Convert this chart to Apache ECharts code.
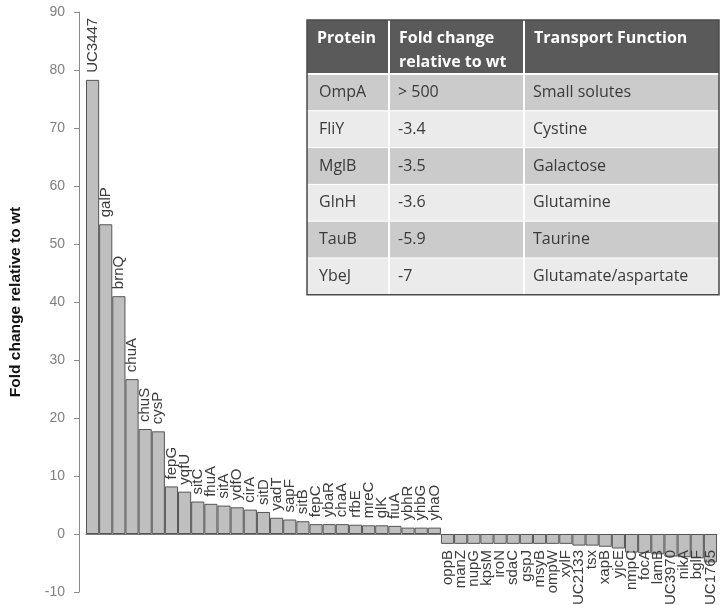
<!DOCTYPE html>
<html>
<head>
<meta charset="utf-8">
<script src="https://cdn.jsdelivr.net/npm/echarts@6/dist/echarts.min.js"></script>
<style>
html,body{margin:0;padding:0;background:#fff;}
#chart{width:720px;height:605px;}
</style>
</head>
<body>
<div id="chart"></div>
<script>
// ---- data ----
const categories = ['UC3447','galP','brnQ','chuA','chuS','cysP','fepG','yqfU','sitC','fhuA','sitA','ydfO','cirA','sitD','yadT','sapF','sitB','fepC','ybaR','chaA','rfbE','mreC','glK','fiuA','ybhR','yhbG','yhaO',
  'oppB','manZ','nupG','kpsM','iroN','sdaC','gspJ','msyB','ompW','xylF','UC2133','tsx','xapB','yjcE','nmpC','focA','lamB','UC3970','nikA','bglF','UC1765'];
const values = [78.3,53.4,41.0,26.7,18.1,17.7,8.2,7.3,5.6,5.2,4.9,4.6,4.2,3.8,2.8,2.5,2.2,1.7,1.7,1.7,1.6,1.5,1.5,1.4,1.1,1.1,1.1,
  -1.7,-1.7,-1.7,-1.7,-1.7,-1.7,-1.7,-1.7,-1.7,-1.7,-2.0,-2.0,-2.2,-2.5,-3.2,-3.3,-3.5,-3.9,-4.0,-4.2,-4.9];
const yMin = -10, yMax = 90, yStep = 10;
const yTitle = 'Fold change relative to wt';

const tableHeader = ['Protein', 'Fold change\nrelative to wt', 'Transport Function'];
const tableProtein = ['OmpA','FliY','MglB','GlnH','TauB','YbeJ'];
const tableFold = ['> 500','-3.4','-3.5','-3.6','-5.9','-7'];
const tableFunction = ['Small solutes','Cystine','Galactose','Glutamine','Taurine','Glutamate/aspartate'];

// ---- table (layout) ----
const T = {x:307, y:20, w:412, headH:54, rowH:36.8, cols:[307,389,524,719]};
const graphics = [];
const rows = tableProtein.map((p,i)=>[p, tableFold[i], tableFunction[i]]);
const totalH = T.headH + T.rowH*rows.length;
graphics.push({type:'rect', shape:{x:T.x, y:T.y, width:T.w, height:T.headH}, style:{fill:'#5a5a5a'}});
rows.forEach((r,i)=>{
  graphics.push({type:'rect', shape:{x:T.x, y:T.y+T.headH+i*T.rowH, width:T.w, height:T.rowH},
    style:{fill: i%2===0 ? '#cbcbcb' : '#ebebeb'}});
});
for (let i=1;i<rows.length;i++){
  const yy = T.y+T.headH+i*T.rowH;
  graphics.push({type:'line', shape:{x1:T.x, y1:yy, x2:T.x+T.w, y2:yy}, style:{stroke:'#ffffff', lineWidth:1}});
}
graphics.push({type:'line', shape:{x1:T.x, y1:T.y+T.headH, x2:T.x+T.w, y2:T.y+T.headH}, style:{stroke:'#ffffff', lineWidth:2}});
[1,2].forEach(c=>{
  graphics.push({type:'line', shape:{x1:T.cols[c], y1:T.y, x2:T.cols[c], y2:T.y+totalH}, style:{stroke:'#ffffff', lineWidth:2}});
});
graphics.push({type:'rect', shape:{x:T.x, y:T.y, width:T.w, height:totalH}, style:{fill:'none', stroke:'#4a4a4a', lineWidth:1.5}});
tableHeader.forEach((h,c)=>{
  graphics.push({type:'text', x:T.cols[c]+10, y:T.y+6,
    style:{text:h, fill:'#ffffff', font:'bold 16px "Open Sans"', lineHeight:24, verticalAlign:'top', align:'left'}});
});
rows.forEach((r,i)=>{
  r.forEach((t,c)=>{
    graphics.push({type:'text', x:T.cols[c]+(c===0?12:9), y:T.y+T.headH+(i+0.5)*T.rowH,
      style:{text:t, fill:'#3a3a3a', font:'16px "Open Sans"', verticalAlign:'middle', align:'left'}});
  });
});

// ---- chart ----
const chart = echarts.init(document.getElementById('chart'), null, {renderer:'canvas'});
const seriesData = values.map((v,i)=>({
  value: v,
  label: v>=0 ? {position:'top', align:'left', distance:7}
              : {position:'insideTop', align:'right', distance:16}
}));
chart.setOption({
  animation:false,
  backgroundColor:'#ffffff',
  grid:{left:77, right:3, top:12, bottom:13, containLabel:false},
  xAxis:{type:'category', data:categories, boundaryGap:true,
    axisLine:{show:true, onZero:true, lineStyle:{color:'#7a7a7a', width:1}},
    axisTick:{show:false}, axisLabel:{show:false}, splitLine:{show:false}},
  yAxis:{type:'value', min:yMin, max:yMax, interval:yStep, offset:7,
    name:yTitle, nameLocation:'middle', nameGap:55,
    nameTextStyle:{fontFamily:'Liberation Sans, Arial', fontWeight:'bold', fontSize:15.5, color:'#111'},
    axisLine:{show:true, onZero:false, lineStyle:{color:'#8a8a8a', width:1}},
    axisTick:{show:true, inside:false, length:5, lineStyle:{color:'#8a8a8a'}},
    axisLabel:{color:'#808080', fontSize:14, margin:14, fontFamily:'Liberation Sans, Arial'},
    splitLine:{show:false}},
  series:[{
    type:'bar',
    data:seriesData,
    barCategoryGap:'0%',
    itemStyle:{color:'#bfbfbf', borderColor:'#555555', borderWidth:1},
    label:{show:true, rotate:90, verticalAlign:'middle',
      fontSize:15, color:'#3c3c3c', fontFamily:'Liberation Sans, Arial',
      formatter:p=>categories[p.dataIndex]}
  }],
  graphic:graphics
});
</script>
</body>
</html>
